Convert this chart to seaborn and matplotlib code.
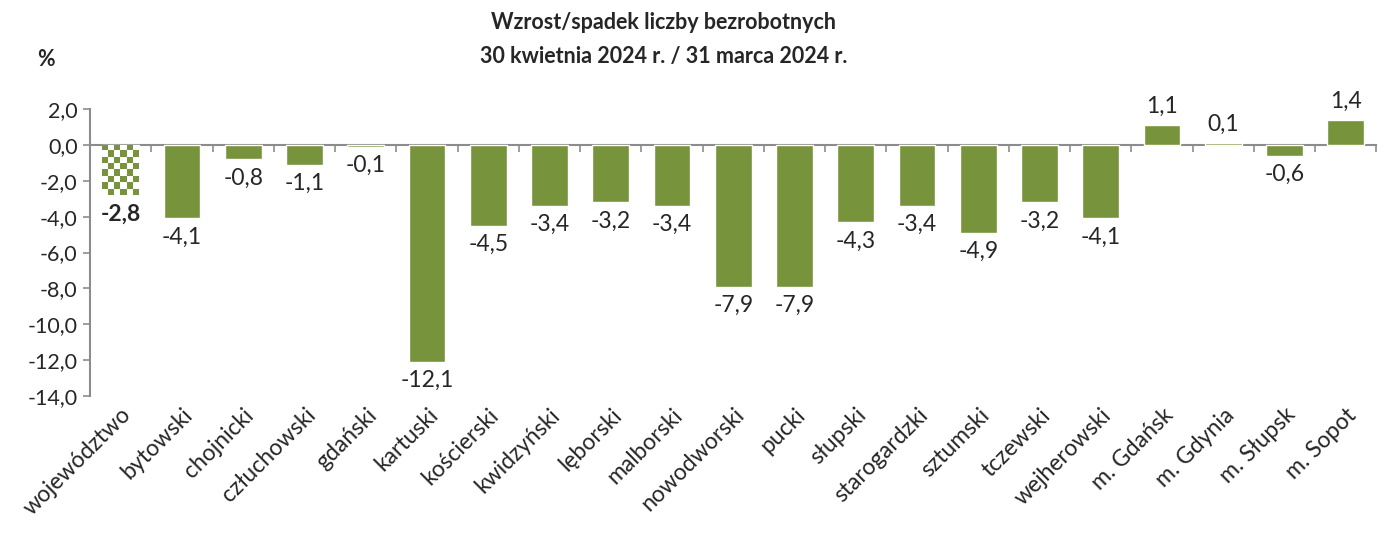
import numpy as np
import pandas as pd
import matplotlib
matplotlib.use("Agg")
import matplotlib.pyplot as plt
import seaborn as sns

# dane z wykresu
powiaty = ["województwo", "bytowski", "chojnicki", "człuchowski", "gdański",
           "kartuski", "kościerski", "kwidzyński", "lęborski", "malborski",
           "nowodworski", "pucki", "słupski", "starogardzki", "sztumski",
           "tczewski", "wejherowski", "m. Gdańsk", "m. Gdynia", "m. Słupsk",
           "m. Sopot"]
zmiana = [-2.8, -4.1, -0.8, -1.1, -0.1, -12.1, -4.5, -3.4, -3.2, -3.4,
          -7.9, -7.9, -4.3, -3.4, -4.9, -3.2, -4.1, 1.1, 0.1, -0.6, 1.4]
y_ticks = [2, 0, -2, -4, -6, -8, -10, -12, -14]

GREEN = "#77933C"
GREY = "#8C8C8C"

sns.set_style("white")
plt.rcParams["font.family"] = ["Lato", "DejaVu Sans"]

df = pd.DataFrame({"powiat": powiaty, "zmiana": zmiana})

fig = plt.figure(figsize=(13.89, 5.35), dpi=100)
ax = fig.add_axes([0.0648, 0.260, 0.9262, 0.536])

sns.barplot(data=df, x="powiat", y="zmiana", color=GREEN, saturation=1,
            width=0.6, ax=ax)

# pierwszy słupek - szachownica
bar0 = ax.patches[0]
bx, bw = bar0.get_x(), bar0.get_width()
by, bh = bar0.get_y(), bar0.get_height()
rows = max(1, int(round(abs(bh) / 0.35)))
cols = 6
r, c = np.indices((rows, cols))
checker = np.where((r + c) % 2 == 0, 0, 1)
cmap = matplotlib.colors.ListedColormap([GREEN, "white"])
bar0.set_facecolor("white")
img = ax.imshow(checker, cmap=cmap, extent=[bx, bx + bw, by + bh, by],
                aspect="auto", interpolation="nearest", zorder=2)
img.set_clip_path(bar0)

ax.set_xlim(-0.5, len(powiaty) - 0.5)
ax.set_ylim(-14, 2)
ax.set_yticks(y_ticks)
ax.set_yticklabels([f"{v:.1f}".replace(".", ",") for v in y_ticks], fontsize=15.5)
ax.set_xlabel("")
ax.set_ylabel("")

ax.set_xticks(range(len(powiaty)))
ax.set_xticklabels(powiaty, rotation=45, ha="right", rotation_mode="anchor",
                   fontsize=16.5)
ax.tick_params(axis="x", length=0, pad=6)
ax.tick_params(axis="y", length=5, width=1.2, color=GREY, direction="out",
               left=True, pad=4)

for s in ["top", "right", "bottom"]:
    ax.spines[s].set_visible(False)
ax.spines["left"].set_color(GREY)
ax.spines["left"].set_linewidth(1.5)

# oś zero z kreskami między kategoriami (w dół), pod słupkami
ax2 = ax.twiny()
ax2.set_xlim(ax.get_xlim())
ax2.xaxis.set_ticks_position("bottom")
ax2.spines["bottom"].set_position(("data", 0))
ax2.set_xticks(np.arange(-0.5, len(powiaty), 1.0))
ax2.set_xticklabels([])
ax2.tick_params(axis="x", length=5, width=1.2, color=GREY, direction="out",
                top=False, bottom=True)
for s in ["top", "right", "left"]:
    ax2.spines[s].set_visible(False)
ax2.spines["bottom"].set_visible(True)
ax2.spines["bottom"].set_color(GREY)
ax2.spines["bottom"].set_linewidth(1.5)
ax2.set_zorder(ax.get_zorder() - 1)
ax.patch.set_visible(False)

labels = [f"{v:.1f}".replace(".", ",") for v in zmiana]
texts = ax.bar_label(ax.containers[0], labels=labels, padding=6, fontsize=16.5)
texts[0].set_fontweight("bold")

fig.text(0.478, 0.958, "Wzrost/spadek liczby bezrobotnych",
         ha="center", va="center", fontsize=15.5, fontweight="bold")
fig.text(0.478, 0.895, "30 kwietnia 2024 r. / 31 marca 2024 r.",
         ha="center", va="center", fontsize=15.5, fontweight="bold")
fig.text(0.033, 0.888, "%", ha="center", va="center", fontsize=15.5,
         fontweight="bold")

fig.savefig("out.png", dpi=100)
